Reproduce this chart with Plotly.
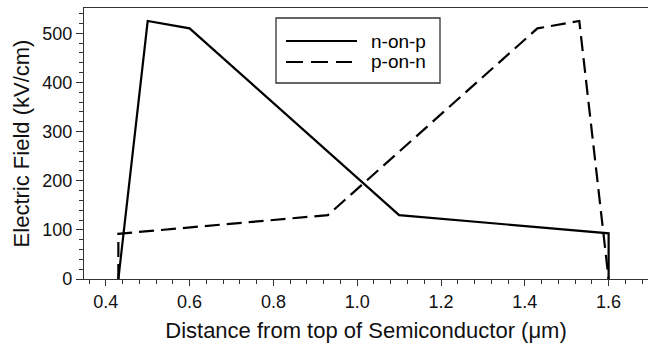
import plotly.graph_objects as go

# Data
n_on_p_x = [0.43, 0.50, 0.60, 1.10, 1.60, 1.60]
n_on_p_y = [0, 525, 510, 130, 93, 0]
p_on_n_x = [0.43, 0.43, 0.93, 1.43, 1.53, 1.60]
p_on_n_y = [0, 92, 130, 510, 525, 0]
series_names = ["n-on-p", "p-on-n"]
x_ticks = [0.4, 0.6, 0.8, 1.0, 1.2, 1.4, 1.6]
y_ticks = [0, 100, 200, 300, 400, 500]

FONT = "Liberation Sans, Arial, sans-serif"
W, H = 648, 343
ML, MT, MB, MR = 84, 8, 64, 0
PW, PH = W - ML - MR, H - MT - MB

def px(x):
    return (x - ML) / PW

def py(y):
    return (MT + PH - y) / PH

fig = go.Figure()
fig.add_trace(go.Scatter(x=n_on_p_x, y=n_on_p_y, mode="lines", name=series_names[0],
                         line=dict(color="black", width=2.2), showlegend=False))
fig.add_trace(go.Scatter(x=p_on_n_x, y=p_on_n_y, mode="lines", name=series_names[1],
                         line=dict(color="black", width=2.2, dash="15px,7px"), showlegend=False))

# manual legend
shapes = [
    dict(type="rect", xref="paper", yref="paper", x0=px(276), x1=px(440), y0=py(83), y1=py(18),
         line=dict(color="#333", width=1.3), fillcolor="white", layer="below"),
    dict(type="line", xref="paper", yref="paper", x0=px(286), x1=px(357), y0=py(41), y1=py(41),
         line=dict(color="black", width=2.2)),
    dict(type="line", xref="paper", yref="paper", x0=px(286), x1=px(352), y0=py(62), y1=py(62),
         line=dict(color="black", width=2.2, dash="17px,8px")),
]
annotations = [
    dict(text=series_names[0], xref="paper", yref="paper", x=px(369), y=py(41), xanchor="left",
         yanchor="middle", showarrow=False, font=dict(family=FONT, size=19, color="black")),
    dict(text=series_names[1], xref="paper", yref="paper", x=px(369), y=py(62), xanchor="left",
         yanchor="middle", showarrow=False, font=dict(family=FONT, size=19, color="black")),
]

fig.update_layout(
    width=W, height=H,
    margin=dict(l=ML, r=MR, t=MT, b=MB, autoexpand=False),
    paper_bgcolor="white", plot_bgcolor="white",
    font=dict(family=FONT, color="black"),
    shapes=shapes, annotations=annotations,
    xaxis=dict(range=[0.348, 1.694], tickvals=x_ticks, ticktext=[f"{v:.1f}" for v in x_ticks],
               automargin=False,
               showgrid=False, zeroline=False, showline=True, linecolor="#333", linewidth=1.3,
               mirror=True, ticks="outside", ticklen=6, tickcolor="#333", tickwidth=1.3,
               minor=dict(dtick=0.04, tick0=0.4, ticks="outside", ticklen=4, tickcolor="#333", tickwidth=1),
               tickfont=dict(size=18, family=FONT, color="#111"),
               title=dict(text="Distance from top of Semiconductor (\u03bcm)", standoff=13,
                          font=dict(size=22, family=FONT, color="#111"))),
    yaxis=dict(range=[0, 551.5], tickvals=y_ticks, automargin=False,
               showgrid=False, zeroline=False, showline=True, linecolor="#333", linewidth=1.3,
               ticks="outside", ticklen=7, tickcolor="#333", tickwidth=1.3,
               minor=dict(dtick=20, tick0=0, ticks="outside", ticklen=4, tickcolor="#333", tickwidth=1),
               tickfont=dict(size=18, family=FONT, color="#111"),
               title=dict(text="Electric Field (kV/cm)", standoff=6,
                          font=dict(size=22, family=FONT, color="#111"))),
)

fig.write_html("out.html", config={"displayModeBar": False},
               post_script="document.body.style.margin='0';document.body.style.overflow='hidden';")
